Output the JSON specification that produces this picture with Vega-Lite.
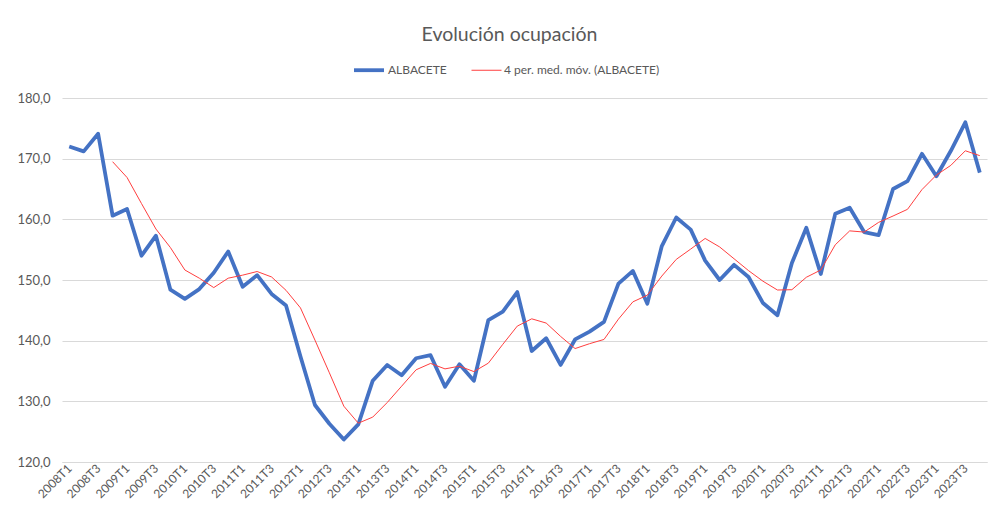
{
  "$schema": "https://vega.github.io/schema/vega-lite/v6.json",
  "autosize": "none",
  "width": 925,
  "height": 364,
  "padding": {"left": 62, "top": 98, "right": 12, "bottom": 58},
  "background": "white",
  "title": {
    "text": "Evolución ocupación",
    "anchor": "middle",
    "frame": "group",
    "fontSize": 19.5,
    "fontWeight": "normal",
    "font": "Lato",
    "color": "#595959",
    "offset": 8,
    "dx": -15
  },
  "data": {
    "values": [
      {"p": "2008T1", "ALBACETE": 172.0, "MM": null},
      {"p": "2008T2", "ALBACETE": 171.2, "MM": null},
      {"p": "2008T3", "ALBACETE": 174.1, "MM": null},
      {"p": "2008T4", "ALBACETE": 160.6, "MM": 169.5},
      {"p": "2009T1", "ALBACETE": 161.7, "MM": 166.9},
      {"p": "2009T2", "ALBACETE": 154.0, "MM": 162.6},
      {"p": "2009T3", "ALBACETE": 157.3, "MM": 158.4},
      {"p": "2009T4", "ALBACETE": 148.4, "MM": 155.35},
      {"p": "2010T1", "ALBACETE": 146.9, "MM": 151.65},
      {"p": "2010T2", "ALBACETE": 148.5, "MM": 150.3},
      {"p": "2010T3", "ALBACETE": 151.2, "MM": 148.75},
      {"p": "2010T4", "ALBACETE": 154.7, "MM": 150.3},
      {"p": "2011T1", "ALBACETE": 148.9, "MM": 150.8},
      {"p": "2011T2", "ALBACETE": 150.8, "MM": 151.4},
      {"p": "2011T3", "ALBACETE": 147.7, "MM": 150.5},
      {"p": "2011T4", "ALBACETE": 145.8, "MM": 148.3},
      {"p": "2012T1", "ALBACETE": 137.4, "MM": 145.4},
      {"p": "2012T2", "ALBACETE": 129.4, "MM": 140.1},
      {"p": "2012T3", "ALBACETE": 126.3, "MM": 134.7},
      {"p": "2012T4", "ALBACETE": 123.7, "MM": 129.2},
      {"p": "2013T1", "ALBACETE": 126.2, "MM": 126.4},
      {"p": "2013T2", "ALBACETE": 133.4, "MM": 127.4},
      {"p": "2013T3", "ALBACETE": 136.0, "MM": 129.8},
      {"p": "2013T4", "ALBACETE": 134.3, "MM": 132.5},
      {"p": "2014T1", "ALBACETE": 137.1, "MM": 135.2},
      {"p": "2014T2", "ALBACETE": 137.6, "MM": 136.25},
      {"p": "2014T3", "ALBACETE": 132.4, "MM": 135.35},
      {"p": "2014T4", "ALBACETE": 136.1, "MM": 135.8},
      {"p": "2015T1", "ALBACETE": 133.4, "MM": 134.9},
      {"p": "2015T2", "ALBACETE": 143.4, "MM": 136.3},
      {"p": "2015T3", "ALBACETE": 144.8, "MM": 139.4},
      {"p": "2015T4", "ALBACETE": 148.0, "MM": 142.4},
      {"p": "2016T1", "ALBACETE": 138.3, "MM": 143.6},
      {"p": "2016T2", "ALBACETE": 140.4, "MM": 142.9},
      {"p": "2016T3", "ALBACETE": 136.0, "MM": 140.7},
      {"p": "2016T4", "ALBACETE": 140.2, "MM": 138.7},
      {"p": "2017T1", "ALBACETE": 141.5, "MM": 139.5},
      {"p": "2017T2", "ALBACETE": 143.1, "MM": 140.2},
      {"p": "2017T3", "ALBACETE": 149.4, "MM": 143.55},
      {"p": "2017T4", "ALBACETE": 151.5, "MM": 146.4},
      {"p": "2018T1", "ALBACETE": 146.1, "MM": 147.5},
      {"p": "2018T2", "ALBACETE": 155.6, "MM": 150.65},
      {"p": "2018T3", "ALBACETE": 160.3, "MM": 153.4},
      {"p": "2018T4", "ALBACETE": 158.3, "MM": 155.1},
      {"p": "2019T1", "ALBACETE": 153.2, "MM": 156.85},
      {"p": "2019T2", "ALBACETE": 150.0, "MM": 155.45},
      {"p": "2019T3", "ALBACETE": 152.5, "MM": 153.5},
      {"p": "2019T4", "ALBACETE": 150.5, "MM": 151.55},
      {"p": "2020T1", "ALBACETE": 146.2, "MM": 149.8},
      {"p": "2020T2", "ALBACETE": 144.2, "MM": 148.35},
      {"p": "2020T3", "ALBACETE": 152.8, "MM": 148.4},
      {"p": "2020T4", "ALBACETE": 158.6, "MM": 150.45},
      {"p": "2021T1", "ALBACETE": 151.0, "MM": 151.65},
      {"p": "2021T2", "ALBACETE": 160.9, "MM": 155.8},
      {"p": "2021T3", "ALBACETE": 161.9, "MM": 158.1},
      {"p": "2021T4", "ALBACETE": 157.9, "MM": 157.9},
      {"p": "2022T1", "ALBACETE": 157.4, "MM": 159.5},
      {"p": "2022T2", "ALBACETE": 165.0, "MM": 160.55},
      {"p": "2022T3", "ALBACETE": 166.3, "MM": 161.65},
      {"p": "2022T4", "ALBACETE": 170.8, "MM": 164.9},
      {"p": "2023T1", "ALBACETE": 167.1, "MM": 167.3},
      {"p": "2023T2", "ALBACETE": 171.3, "MM": 168.9},
      {"p": "2023T3", "ALBACETE": 176.0, "MM": 171.3},
      {"p": "2023T4", "ALBACETE": 167.7, "MM": 170.5}
    ]
  },
  "transform": [
    {"fold": ["ALBACETE", "MM"], "as": ["serie", "valor"]},
    {"filter": "isValid(datum.valor)"}
  ],
  "mark": {"type": "line", "strokeJoin": "round", "strokeCap": "butt"},
  "encoding": {
    "x": {
      "field": "p",
      "type": "ordinal",
      "scale": {"type": "point", "padding": 0.5},
      "axis": {
        "title": null,
        "values": ["2008T1","2008T3","2009T1","2009T3","2010T1","2010T3","2011T1","2011T3","2012T1","2012T3","2013T1","2013T3","2014T1","2014T3","2015T1","2015T3","2016T1","2016T3","2017T1","2017T3","2018T1","2018T3","2019T1","2019T3","2020T1","2020T3","2021T1","2021T3","2022T1","2022T3","2023T1","2023T3"],
        "labelAngle": -45,
        "labelAlign": "right",
        "labelBaseline": "middle",
        "labelPadding": 4,
        "labelFontSize": 12,
        "labelFont": "Lato",
        "labelColor": "#595959",
        "ticks": false,
        "domain": true,
        "domainColor": "#D9D9D9",
        "grid": false,
        "labelOverlap": false
      }
    },
    "y": {
      "field": "valor",
      "type": "quantitative",
      "scale": {"domain": [120, 180], "nice": false, "zero": false},
      "axis": {
        "title": null,
        "values": [120, 130, 140, 150, 160, 170, 180],
        "labelExpr": "replace(format(datum.value, '.1f'), '.', ',')",
        "labelFontSize": 13,
        "labelFont": "Lato",
        "labelColor": "#595959",
        "labelPadding": 12,
        "ticks": false,
        "domain": false,
        "grid": true,
        "gridColor": "#D9D9D9",
        "gridWidth": 1
      }
    },
    "color": {
      "field": "serie",
      "type": "nominal",
      "scale": {"domain": ["ALBACETE", "MM"], "range": ["#4472C4", "#FF3F3F"]},
      "legend": {
        "title": null,
        "orient": "none",
        "legendX": 290,
        "legendY": -45,
        "direction": "horizontal",
        "symbolType": "stroke",
        "symbolSize": 900,
        "labelExpr": "datum.label == 'MM' ? '4 per. med. móv. (ALBACETE)' : datum.label",
        "labelFontSize": 12,
        "labelFont": "Lato",
        "labelColor": "#595959",
        "labelOffset": 2,
        "columnPadding": 22,
        "encode": {
          "symbols": {
            "update": {
              "strokeWidth": {"signal": "datum.value == 'ALBACETE' ? 4 : 1"}
            }
          }
        }
      }
    },
    "strokeWidth": {
      "field": "serie",
      "type": "nominal",
      "scale": {"domain": ["ALBACETE", "MM"], "range": [3.8, 1]},
      "legend": null
    }
  },
  "config": {
    "view": {"stroke": null}
  }
}
